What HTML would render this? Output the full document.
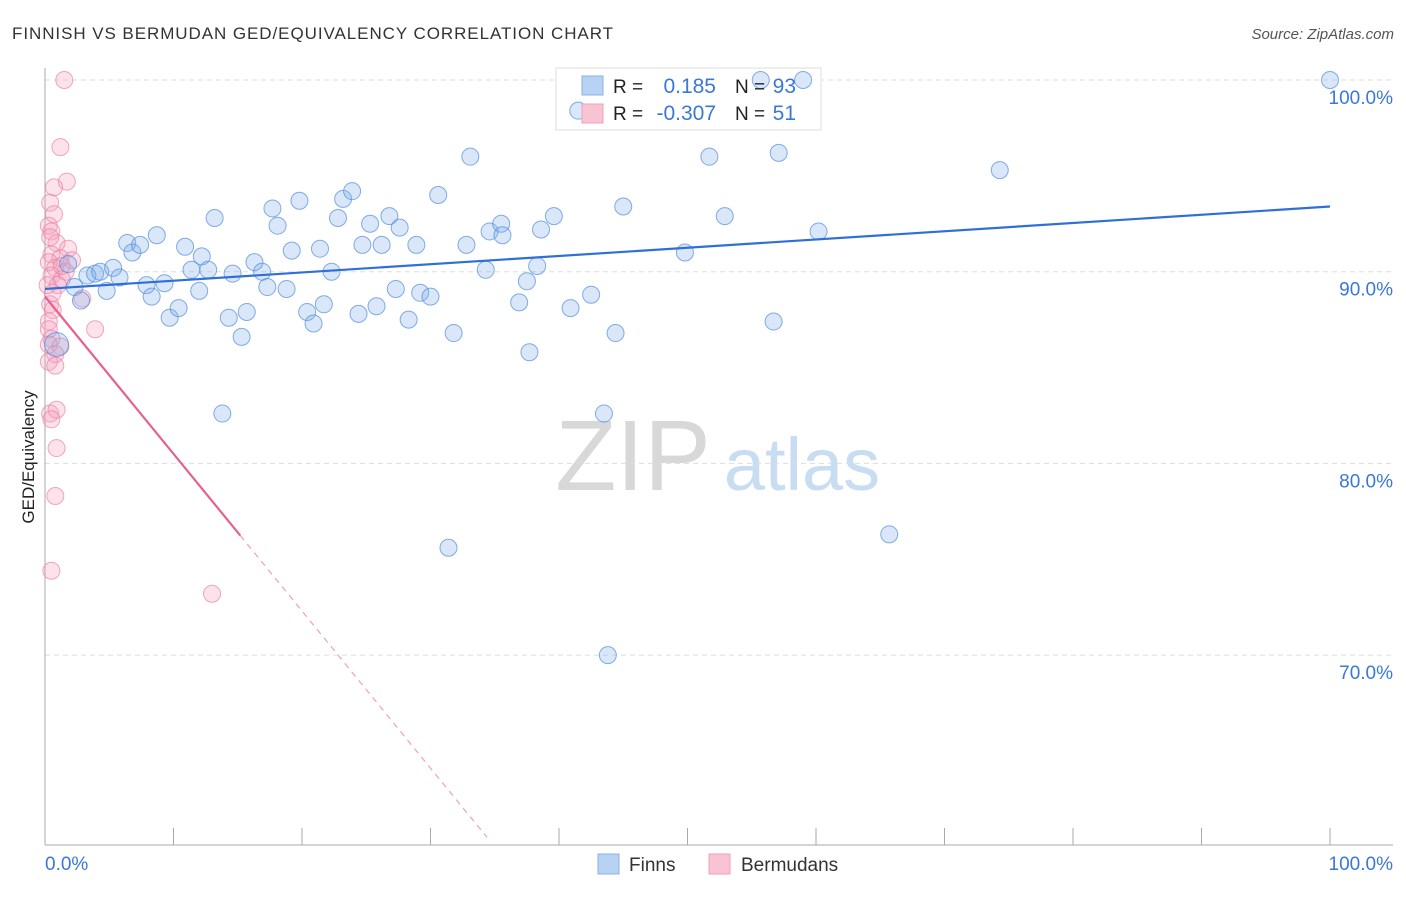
<!DOCTYPE html>
<html><head><meta charset="utf-8"><style>
body{margin:0;background:#fff;width:1406px;height:892px;overflow:hidden;font-family:"Liberation Sans",sans-serif}
svg text{font-family:"Liberation Sans",sans-serif}
</style></head><body>
<svg id="c" width="1406" height="892">
<text x="12" y="39" font-size="17" fill="#333" textLength="601">FINNISH VS BERMUDAN GED/EQUIVALENCY CORRELATION CHART</text>
<text x="1394" y="39" font-size="15" fill="#555" font-style="italic" text-anchor="end">Source: ZipAtlas.com</text>
<text transform="translate(34,457) rotate(-90)" font-size="17" fill="#222" text-anchor="middle">GED/Equivalency</text>
<g><text x="633" y="490" font-size="100" font-family="Liberation Serif" fill="#d8d8d8" text-anchor="middle">ZIP</text><text x="802" y="490" font-size="74" fill="#c8dcf2" text-anchor="middle">atlas</text></g>
<g id="grid"></g><g id="axes"></g>
<g>
<rect x="556" y="68" width="265" height="62" fill="#fff" stroke="#ddd"/>
</g>
<g id="pts"></g><g id="trend"></g>
<g>
<rect x="582" y="76" width="21" height="19" fill="#b8d2f4" stroke="#8ab2e8"/>
<rect x="582" y="104" width="21" height="19" fill="#f8c4d4" stroke="#f0a0b8"/>
<text x="613" y="93" font-size="19" fill="#222">R =</text><text x="716" y="93" font-size="21" fill="#3a78d8" text-anchor="end">0.185</text>
<text x="735" y="93" font-size="19" fill="#222">N =</text><text x="796" y="93" font-size="21" fill="#3a78d8" text-anchor="end">93</text>
<text x="613" y="120" font-size="19" fill="#222">R =</text><text x="716" y="120" font-size="21" fill="#3a78d8" text-anchor="end">-0.307</text>
<text x="735" y="120" font-size="19" fill="#222">N =</text><text x="796" y="120" font-size="21" fill="#3a78d8" text-anchor="end">51</text>
</g>
<g>
<rect x="598" y="854" width="21" height="20" fill="#b8d2f4" stroke="#8ab2e8"/><text x="629" y="871" font-size="19" fill="#333">Finns</text>
<rect x="709" y="854" width="21" height="20" fill="#f8c4d4" stroke="#f0a0b8"/><text x="741" y="871" font-size="19" fill="#333">Bermudans</text>
</g>
</svg>
<script>
const yTicks=[100,90,80,70];
const xTickLabels=["0.0%","100.0%"];
const finnsX=[0.9,1.8,2.3,2.8,3.3,3.9,4.3,4.8,5.3,5.8,6.4,6.8,7.4,7.9,8.3,8.7,9.3,9.7,10.4,10.9,11.4,12,12.2,12.7,13.2,13.8,14.3,14.6,15.3,15.7,16.3,16.9,17.3,17.7,18.1,18.8,19.2,19.8,20.4,20.9,21.4,21.7,22.3,22.8,23.2,23.9,24.4,24.7,25.3,25.8,26.2,26.8,27.6,27.3,28.3,28.9,29.2,30,30.6,31.4,31.8,32.8,33.1,34.3,34.6,35.5,35.6,36.9,37.5,37.7,38.3,38.6,39.6,40.9,41.5,42.5,43.5,43.8,44.4,45,49.8,51.7,52.9,55.7,56.7,57.1,59,60.2,65.7,74.3,100];
const finnsY=[86.2,90.4,89.2,88.5,89.8,89.9,90,89,90.2,89.7,91.5,91,91.4,89.3,88.7,91.9,89.4,87.6,88.1,91.3,90.1,89,90.8,90.1,92.8,82.6,87.6,89.9,86.6,87.9,90.5,90,89.2,93.3,92.4,89.1,91.1,93.7,87.9,87.3,91.2,88.3,90,92.8,93.8,94.2,87.8,91.4,92.5,88.2,91.4,92.9,92.3,89.1,87.5,91.4,88.9,88.7,94,75.6,86.8,91.4,96,90.1,92.1,92.5,91.9,88.4,89.5,85.8,90.3,92.2,92.9,88.1,98.4,88.8,82.6,70,86.8,93.4,91,96,92.9,100,87.4,96.2,100,92.1,76.3,95.3,100];
const bermX=[1.5,1.2,1.7,0.7,0.4,0.3,0.5,0.9,1.8,0.5,1.2,0.3,0.8,1.6,0.5,1.3,1,2.9,0.4,0.6,0.3,0.3,3.9,0.5,0.3,1.2,0.8,0.3,0.8,0.4,0.9,0.5,0.9,0.8,0.5,13,0.6,2.1,0.2,0.7,0.4,1.3];
const bermY=[100,96.5,94.7,94.4,93.6,92.4,92.1,91.5,91.2,90.9,90.7,90.5,90.2,90,89.8,89.6,89.3,88.6,88.3,88,87.4,87,87,86.5,86.2,86.1,85.7,85.3,85.1,82.6,82.8,82.3,80.8,78.3,74.4,73.2,88.9,90.6,89.3,93,91.8,90.3];
const finnsTrend=[89.1,93.4];
const bermTrend={a:88.7,b:-0.82,solidEnd:15.2,end:34.4};
const L=45,R=1330,T=80,B=845;
const sx=v=>L+v*(R-L)/100;
const sy=v=>T+(100-v)*19.17;
const NS="http://www.w3.org/2000/svg";
function mk(p,tag,at){const e=document.createElementNS(NS,tag);for(const k in at)e.setAttribute(k,at[k]);p.appendChild(e);return e;}
const grid=document.getElementById('grid'),axes=document.getElementById('axes'),pts=document.getElementById('pts'),tr=document.getElementById('trend');
yTicks.forEach(t=>{
 const l=mk(grid,'line',{x1:L,x2:1393,y1:sy(t),y2:sy(t),stroke:'#ddd','stroke-dasharray':'5,4'});
 
 
 const tx=mk(grid,'text',{x:1393,y:sy(t)+24,'font-size':19,fill:'#3a78d8','text-anchor':'end'});
 tx.textContent=t.toFixed(1)+'%';
 
 
});
mk(axes,'line',{x1:L,x2:L,y1:68,y2:B,stroke:'#aaa'});
mk(axes,'line',{x1:L,x2:1393,y1:B,y2:B,stroke:'#aaa'});
for(let i=0;i<=10;i++){const t=mk(axes,'line',{x1:sx(i*10),x2:sx(i*10),y1:828,y2:B,stroke:'#aaa'});
 
 }
const xl0=mk(axes,'text',{x:45,y:870,'font-size':19,fill:'#3a78d8'});xl0.textContent=xTickLabels[0];


const xl1=mk(axes,'text',{x:1393,y:870,'font-size':19,fill:'#3a78d8','text-anchor':'end'});xl1.textContent=xTickLabels[1];


bermX.forEach((x,i)=>{const c=mk(pts,'circle',{cx:sx(x),cy:sy(bermY[i]),r:8.5,fill:'rgba(244,160,190,0.3)',stroke:'rgba(236,130,165,0.7)'});
 
 });
finnsX.forEach((x,i)=>{const c=mk(pts,'circle',{cx:sx(x),cy:sy(finnsY[i]),r:i===0?12:8.5,fill:'rgba(130,175,235,0.3)',stroke:'rgba(80,140,220,0.7)'});
 
 });
const fl=mk(tr,'line',{x1:sx(0),y1:sy(finnsTrend[0]),x2:sx(100),y2:sy(finnsTrend[1]),stroke:'#2f6fd8','stroke-width':2.2});


const bf=v=>bermTrend.a+bermTrend.b*v;
const bl=mk(tr,'line',{x1:sx(0),y1:sy(bf(0)),x2:sx(bermTrend.solidEnd),y2:sy(bf(bermTrend.solidEnd)),stroke:'#e8608e','stroke-width':2.2});


const bd=mk(tr,'line',{x1:sx(bermTrend.solidEnd),y1:sy(bf(bermTrend.solidEnd)),x2:sx(bermTrend.end),y2:sy(bf(bermTrend.end)),stroke:'#f0a0b8','stroke-width':1.2,'stroke-dasharray':'6,5'});


</script>
</body></html>
